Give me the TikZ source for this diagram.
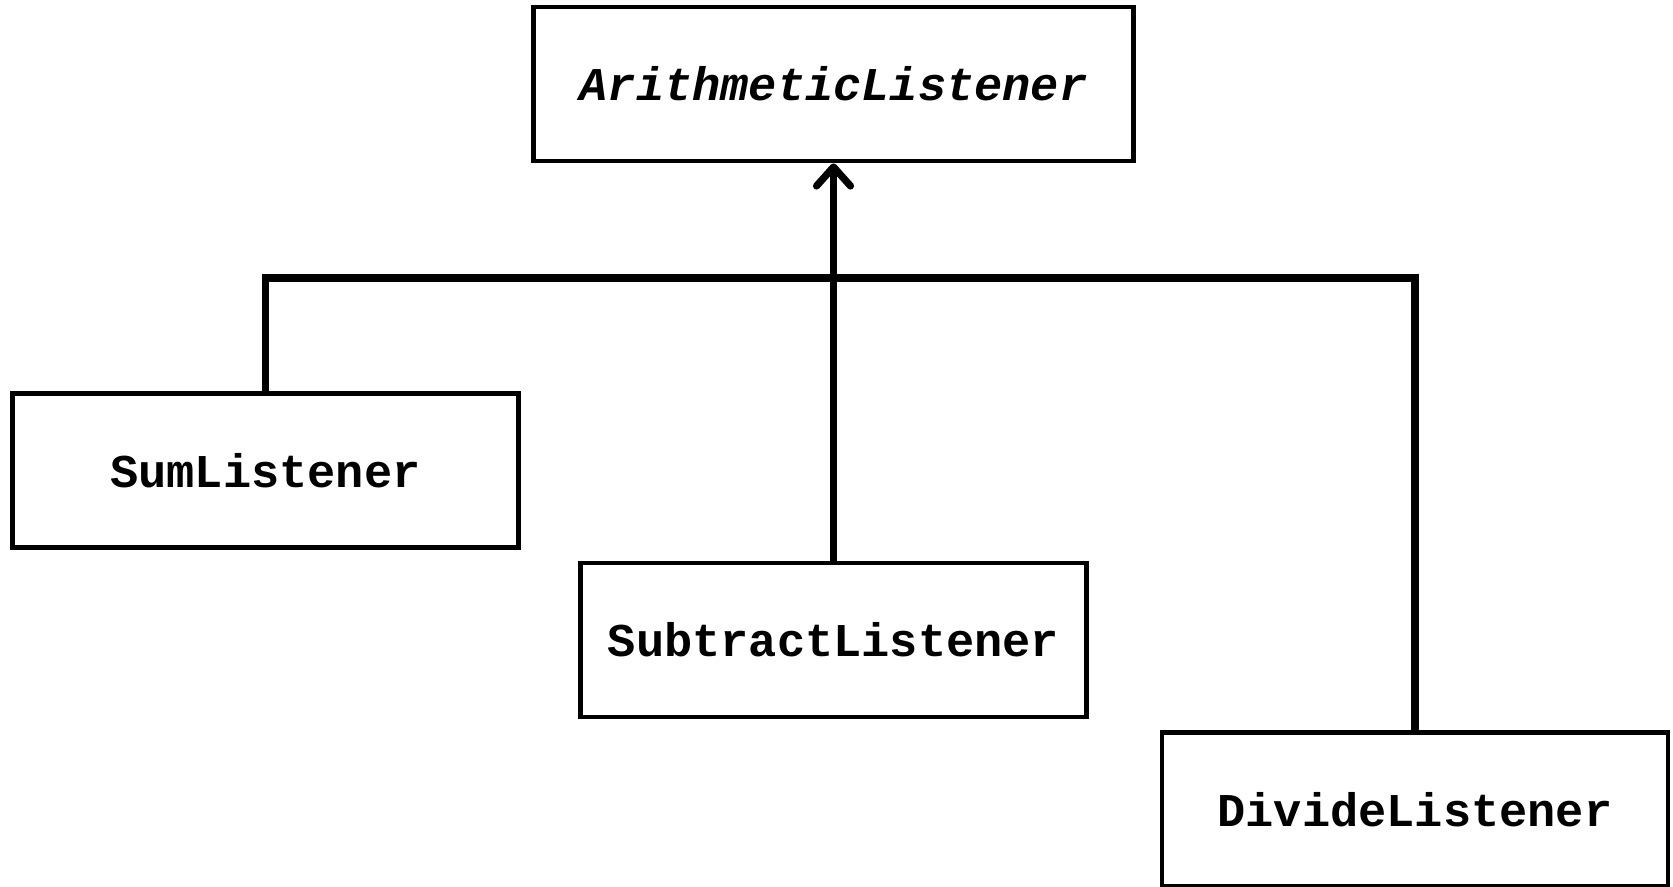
\documentclass[tikz,border=0pt]{standalone}
\usepackage{fontspec}
\setmonofont{Liberation Mono}
\usetikzlibrary{arrows.meta}
\begin{document}
\begin{tikzpicture}[x=0.5pt,y=-0.5pt,
	>={Straight Barb[length=9.5pt,width=17pt,round]},
	cls/.style={draw,line width=2.4pt,minimum width=253pt,minimum height=77pt,
		font=\fontsize{23.5}{28}\selectfont\ttfamily\bfseries},
	conn/.style={line width=3.6pt}]
\useasboundingbox (0,0) rectangle (1673,887);
\node[cls,minimum width=300pt,font=\fontsize{23.5}{28}\selectfont\ttfamily\bfseries\itshape] (arith) at (833.5,84) {ArithmeticListener};
\node[cls] (sum) at (265.5,470.5) {SumListener};
\node[cls] (sub) at (833.5,640) {SubtractListener};
\node[cls] (div) at (1415,809.5) {DivideListener};
\coordinate (bus) at (833.5,278);
\draw[conn] (sum.north) |- (bus) -| (div.north);
\draw[conn,->] (sub.north) -- (arith.south);
\end{tikzpicture}
\end{document}
